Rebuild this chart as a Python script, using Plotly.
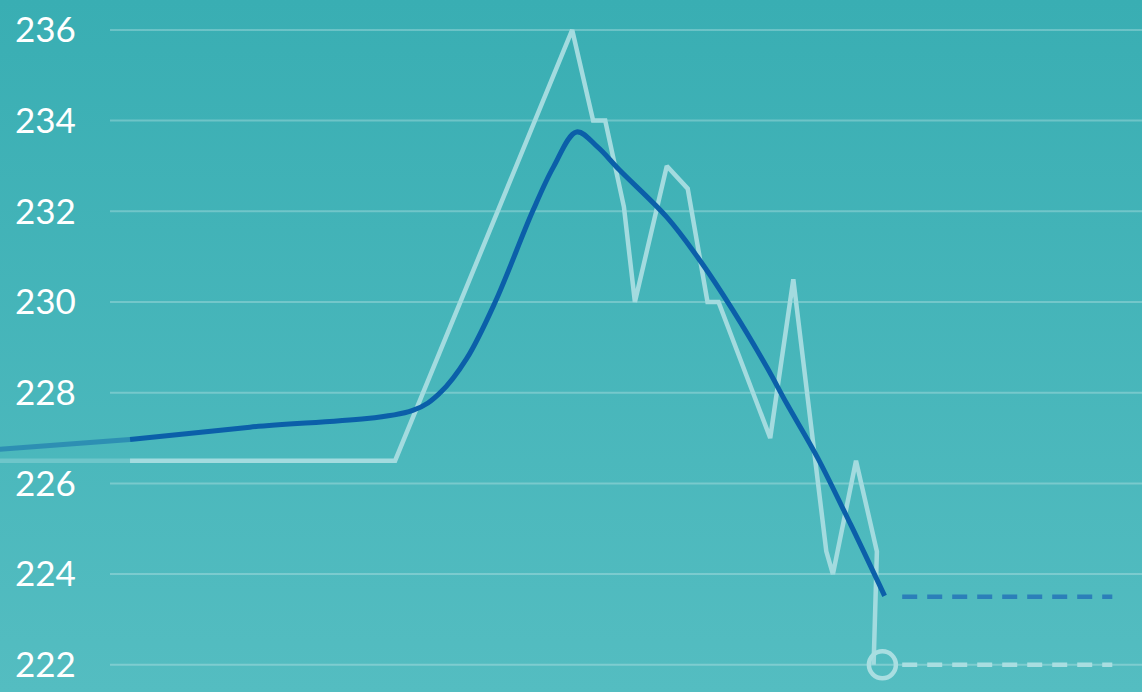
import base64

import plotly.graph_objects as go

# days since start of the window, weights in lb
raw_days = [0, 24.1, 40.2, 42.1, 43.2, 44.9, 45.9, 48.8, 50.7, 52.5, 53.5,
            58.2, 60.3, 63.3, 63.9, 66.0, 67.9, 67.6]
raw_weight = [226.5, 226.5, 236.0, 234.0, 234.0, 232.1, 230.0, 233.0, 232.5,
              230.0, 230.0, 227.0, 230.5, 224.5, 224.0, 226.5, 224.5, 222.0]

trend_days = [0, 10.9, 25.7, 28.2, 30.6, 33.2, 36.6, 38.5, 40.6,
              42.5, 44.5, 48.8, 51.8, 54.8, 57.9, 59.7, 62.5, 65.5, 68.6]
trend_weight = [226.97, 227.24, 227.61, 228.0, 228.75, 230.0,
                232.0, 232.98, 233.75, 233.42, 232.91, 231.87, 230.92, 229.82,
                228.56, 227.76, 226.57, 225.1, 223.52]

# history before the window (drawn faded)
prev_days = [-12, 0]
prev_raw = [226.5, 226.5]
prev_trend = [226.75, 226.97]

today_day = 68.4
today_weight = 222.0
proj_days = [70.2, 89.3]
proj_trend = 223.5

y_ticks = [222, 224, 226, 228, 230, 232, 234, 236]

BLUE = "#0b5fa9"
PALE = "#a3dbdf"

svg = ('<svg xmlns="http://www.w3.org/2000/svg" width="10" height="100" '
       'preserveAspectRatio="none"><defs><linearGradient id="g" x1="0" y1="0" '
       'x2="0" y2="1"><stop offset="0" stop-color="#39aeb3"/>'
       '<stop offset="1" stop-color="#54bdc1"/></linearGradient></defs>'
       '<rect width="10" height="100" fill="url(#g)"/></svg>')
bg = "data:image/svg+xml;base64," + base64.b64encode(svg.encode()).decode()

fig = go.Figure()
fig.add_trace(go.Scatter(x=prev_days, y=prev_raw, mode="lines", opacity=0.4,
                         line=dict(color=PALE, width=4.5), hoverinfo="skip"))
fig.add_trace(go.Scatter(x=prev_days, y=prev_trend, mode="lines", opacity=0.45,
                         line=dict(color=BLUE, width=5), hoverinfo="skip"))
fig.add_trace(go.Scatter(x=raw_days, y=raw_weight, mode="lines",
                         line=dict(color=PALE, width=4.5)))
fig.add_trace(go.Scatter(x=trend_days, y=trend_weight, mode="lines",
                         line=dict(color=BLUE, width=5, shape="spline",
                                   smoothing=1.0)))
fig.add_trace(go.Scatter(x=proj_days, y=[proj_trend] * 2, mode="lines",
                         line=dict(color="#2b7fb9", width=4.5, dash="15px,10px")))
fig.add_trace(go.Scatter(x=proj_days, y=[today_weight] * 2, mode="lines",
                         line=dict(color="#a9dee1", width=4.5, dash="15px,10px")))
fig.add_trace(go.Scatter(x=[today_day], y=[today_weight], mode="markers",
                         marker=dict(size=27, color="rgba(0,0,0,0)",
                                     line=dict(color="#a9dee1", width=4.5))))

for t in y_ticks:
    fig.add_shape(type="line", xref="paper", x0=110 / 1142, x1=1, yref="y",
                  y0=t, y1=t, line=dict(color="rgba(255,255,255,0.25)", width=2),
                  layer="below")

fig.add_layout_image(source=bg, xref="paper", yref="paper", x=0, y=1,
                     sizex=1, sizey=1, sizing="stretch", layer="below")

fig.update_layout(
    width=1142, height=692, margin=dict(l=0, r=0, t=0, b=0),
    paper_bgcolor="#47b6ba", plot_bgcolor="rgba(0,0,0,0)", showlegend=False,
    font=dict(family="Lato", color="white"),
    xaxis=dict(range=[-11.82, 92.0], visible=False),
    yaxis=dict(range=[221.40, 236.66], tickvals=y_ticks, showgrid=False,
               zeroline=False, ticklabelposition="inside", ticks="",
               ticklabelstandoff=12, tickfont=dict(size=35, color="white")),
)

fig.write_html("out.html", config={"displayModeBar": False},
               post_script="document.body.style.margin='0';"
                           "document.body.style.overflow='hidden';")
